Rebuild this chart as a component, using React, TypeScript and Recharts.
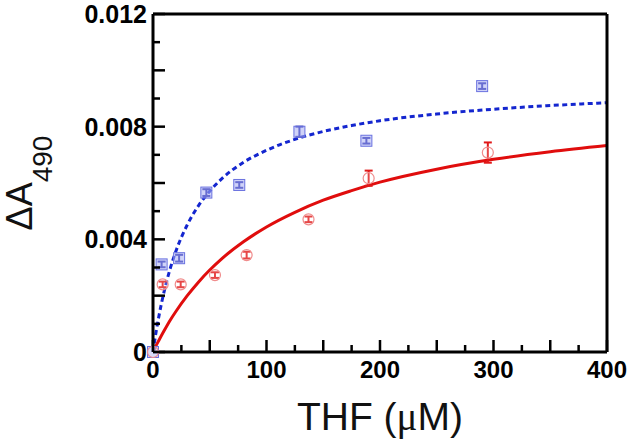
import { ComposedChart, Line, Scatter, ErrorBar, XAxis, YAxis } from 'recharts';

// THF titration, delta A490 vs concentration
const blueX = [0, 7.6, 23, 47, 76, 129, 188, 290];
const blueY = [0, 0.00311, 0.00333, 0.00566, 0.00593, 0.00782, 0.0075, 0.00944];
const blueErr = [0, 0.0001, 0.00012, 0.00012, 0.0001, 0.00018, 0.0001, 0.0001];

const redX = [0, 8.5, 24.4, 54.6, 82.5, 137, 190, 295];
const redY = [0, 0.0024, 0.0024, 0.00273, 0.00344, 0.00471, 0.00617, 0.00708];
const redErr = [0, 0.0001, 0.0001, 0.0001, 0.00012, 0.0001, 0.00027, 0.00036];

// fitted curves
const fitX = [0, 2.5, 5, 10, 15, 20, 30, 40, 50, 60, 80, 100, 125, 150, 175, 200, 250, 300, 350, 400];
const blueFit = [0, 0.00066, 0.00123, 0.00218, 0.00294, 0.00356, 0.0045, 0.00519, 0.00571, 0.00613, 0.00674, 0.00716, 0.00755, 0.00783, 0.00804, 0.00821, 0.00845, 0.00862, 0.00875, 0.00885];
const redFit = [0, 0.00021, 0.0004, 0.00077, 0.00112, 0.00143, 0.00199, 0.00248, 0.00291, 0.00329, 0.00392, 0.00444, 0.00496, 0.00539, 0.00573, 0.00603, 0.00649, 0.00684, 0.00711, 0.00733];

const xTicks = [0, 25, 50, 75, 100, 125, 150, 175, 200, 225, 250, 275, 300, 325, 350, 375, 400];
const xLabels = [0, 100, 200, 300, 400];
const yTicks = [0, 0.001, 0.002, 0.003, 0.004, 0.005, 0.006, 0.007, 0.008, 0.009, 0.01, 0.011, 0.012];
const yLabels = ['0', '', '', '', '0.004', '', '', '', '0.008', '', '', '', '0.012'];

const bluePts = blueX.map((x, i) => ({ x, y: blueY[i], e: blueErr[i] }));
const redPts = redX.map((x, i) => ({ x, y: redY[i], e: redErr[i] }));
const blueCurve = fitX.map((x, i) => ({ x, y: blueFit[i] }));
const redCurve = fitX.map((x, i) => ({ x, y: redFit[i] }));

const FONT = '"Liberation Sans", Arial, sans-serif';
const major = 12;
const minor = 7;

const xLen = (v: number) => (v % 50 === 0 ? major : minor);
const yIdx = (v: number) => Math.round(v * 1000);
const yLen = (v: number) => (yIdx(v) % 2 === 0 ? major : minor);

const BottomTick = (p: any) => {
  const v = p.payload.value;
  return (
    <g>
      <line x1={p.x} x2={p.x} y1={p.y} y2={p.y - xLen(v)} stroke="#000" strokeWidth={2.5} />
      {xLabels.includes(v) && (
        <text x={p.x} y={p.y + 26} textAnchor="middle" fontFamily={FONT} fontWeight="bold" fontSize={24} fill="#000">
          {v}
        </text>
      )}
    </g>
  );
};

const TopTick = (p: any) => (
  <line x1={p.x} x2={p.x} y1={p.y} y2={p.y + xLen(p.payload.value)} stroke="#000" strokeWidth={2.5} />
);

const LeftTick = (p: any) => {
  const v = p.payload.value;
  return (
    <g>
      <line x1={p.x} x2={p.x + yLen(v)} y1={p.y} y2={p.y} stroke="#000" strokeWidth={2.5} />
      <text x={p.x - 6} y={p.y + 9} textAnchor="end" fontFamily={FONT} fontWeight="bold" fontSize={25} fill="#000">
        {yLabels[yIdx(v)]}
      </text>
    </g>
  );
};

const RightTick = (p: any) => (
  <line x1={p.x} x2={p.x - yLen(p.payload.value)} y1={p.y} y2={p.y} stroke="#000" strokeWidth={2.5} />
);

const Square = (p: any) => (
  <rect x={p.cx - 5.5} y={p.cy - 5.5} width={11} height={11} fill="#a9aef2" fillOpacity={0.55} stroke="#6a72e0" strokeWidth={1} />
);

const Ring = (p: any) => (
  <circle cx={p.cx} cy={p.cy} r={5.5} fill="#fff" fillOpacity={0.2} stroke="#f08c8c" strokeWidth={1.2} />
);

const XTitle = (p: any) => {
  const vb = p.viewBox;
  return (
    <text x={vb.x + vb.width / 2} y={vb.y + 78} textAnchor="middle" fontFamily={FONT} fontSize={39} fill="#111">
      THF (<tspan fontFamily='"Liberation Serif", serif'>μ</tspan>M)
    </text>
  );
};

const YTitle = (p: any) => {
  const vb = p.viewBox;
  const cy = vb.y + vb.height / 2;
  return (
    <text x={32} y={cy} transform={`rotate(-90 32 ${cy})`} textAnchor="middle" fontFamily={FONT} fontSize={36} fill="#111">
      <tspan>ΔA</tspan>
      <tspan fontSize={28} dy={20}>490</tspan>
    </text>
  );
};

export default function App() {
  return (
    <div style={{ position: 'absolute', left: 0, top: 0, background: '#fff' }}>
      <ComposedChart width={633} height={442} margin={{ top: 0, right: 0, bottom: 0, left: 0 }}>
        <XAxis
          xAxisId="b"
          dataKey="x"
          type="number"
          domain={[0, 400]}
          ticks={xTicks}
          interval={0}
          height={90}
          tickSize={0}
          tickMargin={0}
          tickLine={false}
          axisLine={{ stroke: '#000', strokeWidth: 3 }}
          tick={BottomTick}
          label={{ content: XTitle }}
        />
        <XAxis
          xAxisId="t"
          orientation="top"
          dataKey="x"
          type="number"
          domain={[0, 400]}
          ticks={xTicks}
          interval={0}
          height={14}
          tickSize={0}
          tickMargin={0}
          tickLine={false}
          axisLine={{ stroke: '#000', strokeWidth: 3 }}
          tick={TopTick}
        />
        <YAxis
          yAxisId="l"
          dataKey="y"
          type="number"
          domain={[0, 0.012]}
          ticks={yTicks}
          interval={0}
          width={153}
          tickSize={0}
          tickMargin={0}
          tickLine={false}
          axisLine={{ stroke: '#000', strokeWidth: 3 }}
          tick={LeftTick}
          label={{ content: YTitle }}
        />
        <YAxis
          yAxisId="r"
          orientation="right"
          dataKey="y"
          type="number"
          domain={[0, 0.012]}
          ticks={yTicks}
          interval={0}
          width={26}
          tickSize={0}
          tickMargin={0}
          tickLine={false}
          axisLine={{ stroke: '#000', strokeWidth: 3 }}
          tick={RightTick}
        />
        <Line
          xAxisId="b"
          yAxisId="l"
          data={redCurve}
          dataKey="y"
          type="monotone"
          stroke="#e00d0d"
          strokeWidth={3}
          dot={false}
          isAnimationActive={false}
        />
        <Line
          xAxisId="b"
          yAxisId="l"
          data={blueCurve}
          dataKey="y"
          type="monotone"
          stroke="#1426cf"
          strokeWidth={3}
          strokeDasharray="5 3.5"
          dot={false}
          isAnimationActive={false}
        />
        <Scatter xAxisId="b" yAxisId="l" data={bluePts} shape={Square} isAnimationActive={false}>
          <ErrorBar dataKey="e" direction="y" width={4} stroke="#1a1fa8" strokeWidth={2} />
        </Scatter>
        <Scatter xAxisId="b" yAxisId="l" data={redPts} shape={Ring} isAnimationActive={false}>
          <ErrorBar dataKey="e" direction="y" width={4} stroke="#e01818" strokeWidth={2} />
        </Scatter>
      </ComposedChart>
    </div>
  );
}
